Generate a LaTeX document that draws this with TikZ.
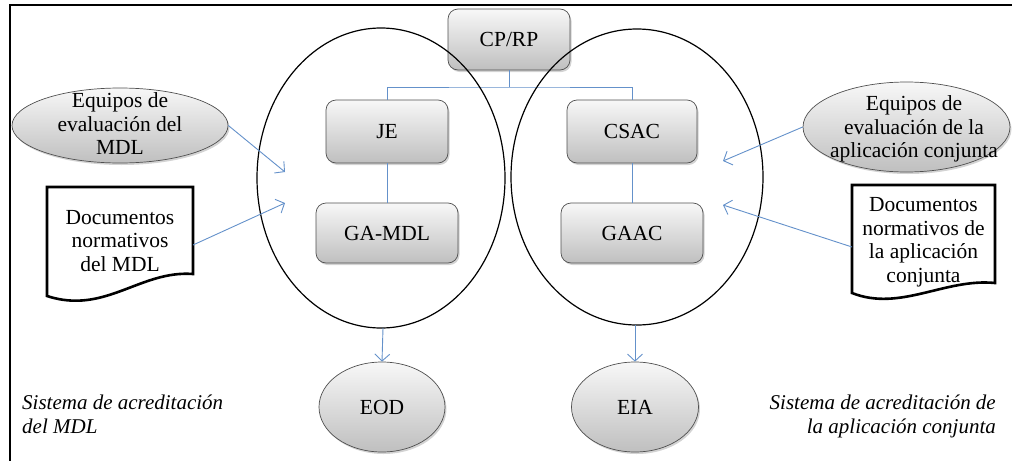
\documentclass[tikz,border=0pt]{standalone}
\usepackage{fontspec}
\setmainfont{Liberation Serif}
\usetikzlibrary{arrows.meta,shapes.geometric,shadows}
\definecolor{linkblue}{RGB}{100,145,202}
\definecolor{boxedge}{RGB}{80,80,80}
\begin{document}
\begin{tikzpicture}[x=1pt,y=1pt,
  conn/.style={draw=linkblue, line width=0.9pt},
  arr/.style={conn, -{Straight Barb[length=7pt,width=15pt,line width=0.9pt]}},
  shade/.style={top color=gray!6, bottom color=gray!50,
    drop shadow={shadow xshift=1.5pt,shadow yshift=-2pt,opacity=0.35}},
  box/.style={shade, draw=boxedge, line width=0.7pt, rounded corners=10pt,
    font=\fontsize{21.5}{24}\selectfont, align=center, inner sep=0pt},
  oval/.style={shade, ellipse, draw=boxedge, line width=0.7pt, inner sep=0pt,
    font=\fontsize{21.5}{24}\selectfont},
  txt/.style={font=\fontsize{21.5}{23.5}\selectfont, align=center, inner sep=0pt},
  itxt/.style={font=\fontsize{21}{23.5}\selectfont\itshape, inner sep=0pt},
  docline/.style={draw=black, line width=2.6pt, fill=white, line join=miter},
  circ/.style={draw=black, line width=1.2pt},
  frame/.style={draw=black, line width=2pt}
]
\useasboundingbox (0,0) rectangle (1012,-461);
% frame
\draw[frame] (1012,-5) -- (10,-5) -- (10,-461);

% org boxes
\node[box, minimum width=122pt, minimum height=61pt] (cprp) at (509,-39.5) {CP/RP};
\node[box, minimum width=122pt, minimum height=63pt] (je) at (387,-131.5) {JE};
\node[box, minimum width=130pt, minimum height=63pt] (csac) at (632,-131.5) {CSAC};
\node[box, minimum width=142pt, minimum height=60pt] (gamdl) at (387,-233) {GA-MDL};
\node[box, minimum width=142pt, minimum height=60pt] (gaac) at (632,-233) {GAAC};

% org connectors
\coordinate (bus) at (509,-87);
\draw[conn] (cprp.south) -- (bus);
\draw[conn] (je.north) |- (bus) -| (csac.north);
\draw[conn] (je.south) -- (gamdl.north);
\draw[conn] (csac.south) -- (gaac.north);

% circles (drawn over the boxes)
\draw[circ] (381,-178) ellipse [x radius=124, y radius=150];
\draw[circ] (637,-177) ellipse [x radius=126, y radius=148];
\coordinate (cLs) at (383,-328);
\coordinate (cRs) at (635,-325);

% result ellipses
\node[oval, minimum width=126pt, minimum height=90pt] (eod) at (382,-407) {EOD};
\node[oval, minimum width=127pt, minimum height=90pt] (eia) at (635,-407) {EIA};
\draw[arr] (cLs) -- (eod.north);
\draw[arr] (cRs) -- (eia.north);

% evaluation team ellipses
\node[oval, minimum width=216pt, minimum height=75pt] (eqL) at (120,-125.5) {};
\node[txt] (eqLt) at (120,-124) {Equipos de\\evaluación del\\MDL};
\node[oval, minimum width=207pt, minimum height=90pt] (eqR) at (906.5,-127) {};
\node[txt] (eqRt) at (914,-129) {Equipos de\\evaluación de la\\aplicación conjunta};

% documents
\draw[docline] (47,-187) -- (193,-187) -- (193,-274)
  .. controls (140,-270) and (105,-315) .. (47,-296) -- cycle;
\node[txt] (docL) at (120,-241) {Documentos\\normativos\\del MDL};
\draw[docline] (852,-185) -- (995,-185) -- (995,-283)
  .. controls (945,-278) and (900,-312) .. (852,-293) -- cycle;
\node[txt] (docR) at (923.5,-242) {Documentos\\normativos de\\la aplicación\\conjunta};

% input arrows
\coordinate (pL1) at (285,-172);
\coordinate (pL2) at (285,-203);
\coordinate (pR1) at (723,-161);
\coordinate (pR2) at (723,-205);
\coordinate (docLe) at (193,-245);
\coordinate (docRw) at (852,-247);
\draw[arr] (eqL.east) -- (pL1);
\draw[arr] (docLe) -- (pL2);
\draw[arr] (eqR.west) -- (pR1);
\draw[arr] (docRw) -- (pR2);

% captions
\node[itxt, align=left, anchor=north west] (capL) at (22,-395) {Sistema de acreditación\\del MDL};
\node[itxt, align=right, anchor=north east] (capR) at (996,-395) {Sistema de acreditación de\\la aplicación conjunta};
\end{tikzpicture}
\end{document}
